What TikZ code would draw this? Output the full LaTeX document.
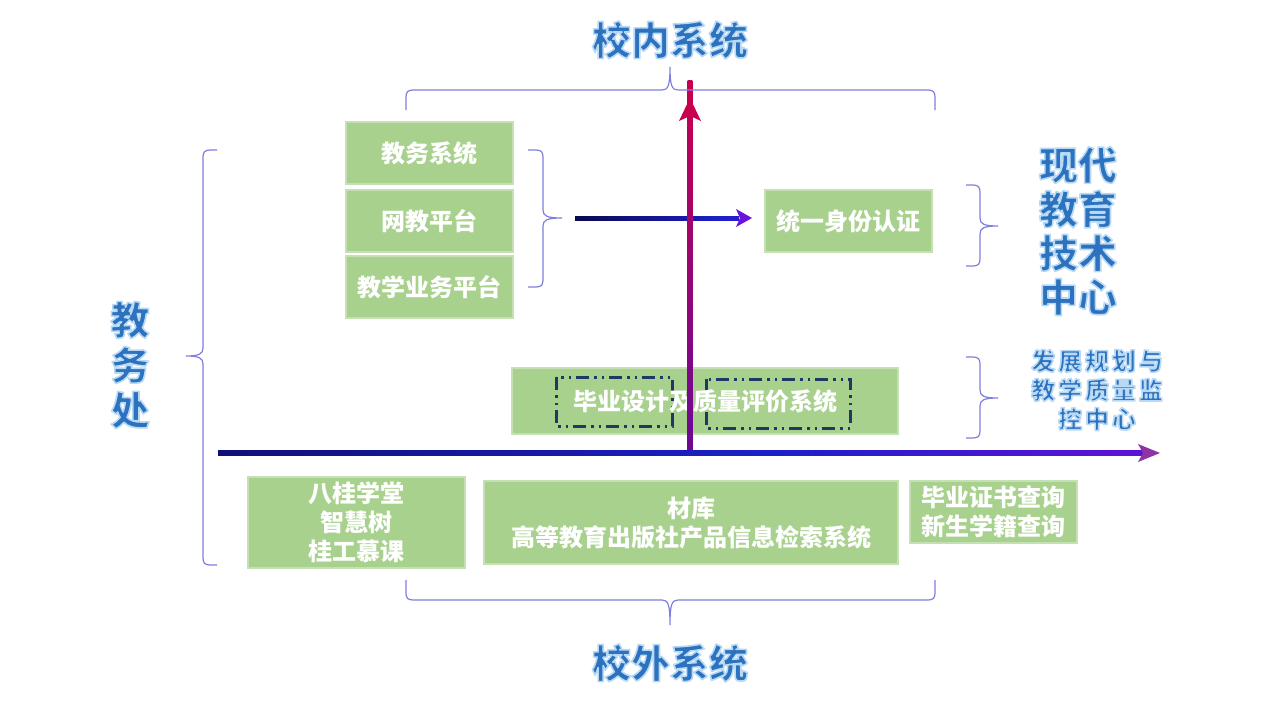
\documentclass[tikz,border=0pt]{standalone}
\usepackage{fontspec}
\setmainfont{Noto Sans CJK SC}
\definecolor{boxgreen}{HTML}{A9D18E}
\definecolor{boxedge}{HTML}{C5E0B4}
\definecolor{navy}{HTML}{203864}
\definecolor{bracecol}{HTML}{7F7FDF}
\definecolor{titleblue}{HTML}{2C72BE}
\definecolor{darknavy}{HTML}{10107A}
\definecolor{axisblue}{HTML}{1C20C8}
\definecolor{axisviolet}{HTML}{6A10D8}
\definecolor{axispurple}{HTML}{8E34A4}
\definecolor{upred}{HTML}{C8004E}
\definecolor{uppurple}{HTML}{6A0A96}
\definecolor{arrowviolet}{HTML}{6A12E0}
\pgfdeclarehorizontalshading{haxis}{100bp}{color(0bp)=(black); color(25bp)=(darknavy);
  color(55bp)=(axisblue); color(78bp)=(axisviolet); color(100bp)=(axispurple)}
\pgfdeclarehorizontalshading{harrow}{100bp}{color(0bp)=(black); color(40bp)=(darknavy);
  color(70bp)=(axisblue); color(100bp)=(arrowviolet)}
% stroked + filled glyphs for the glowing titles
\newcommand{\glow}[1]{\textcolor{titleblue}{\special{pdf:code 0.72 0.85 0.96 RG 1 j 1.6 w 2 Tr}#1\special{pdf:code 0 Tr}}}

\begin{document}
\begin{tikzpicture}[x=1pt, y=-1pt,
    sysbox/.style={fill=boxgreen, draw=boxedge, line width=1.5pt, text=white,
      font=\bfseries\fontsize{24}{29}\selectfont, align=center, inner sep=0pt},
    dashbox/.style={draw=navy, line width=3pt,
      dash pattern=on 13pt off 5pt on 2.5pt off 5pt on 2.5pt off 5pt},
    curly/.style={draw=bracecol, line width=1.2pt},
    biglabel/.style={font=\bfseries\fontsize{39}{44}\selectfont, inner sep=0pt},
    midlabel/.style={font=\bfseries\fontsize{24}{29}\selectfont\addfontfeature{LetterSpace=12}, inner sep=0pt}]
  %%%%% START %%%%%

  \useasboundingbox[fill=white] (0,0) rectangle (1280,720);

  % inside systems
  \node[sysbox, minimum width=167, minimum height=62] (jwxt) at (429.5,153) {教务系统};
  \node[sysbox, minimum width=167, minimum height=62] (wjpt) at (429.5,221) {网教平台};
  \node[sysbox, minimum width=167, minimum height=62] (jxyw) at (429.5,287) {教学业务平台};
  \node[sysbox, minimum width=167, minimum height=62] (tysf) at (848.5,221) {统一身份认证};

  \node[sysbox, minimum width=386, minimum height=66] (bysj) at (705,401) {};
  \draw[dashbox] (556,377) rectangle (672,426);
  \draw[dashbox] (706,379) rectangle (850,428);
  \node[text=white, font=\bfseries\fontsize{24}{29}\selectfont] (bysjtext) at (bysj) {毕业设计及质量评价系统};

  % outside systems
  \node[sysbox, minimum width=217, minimum height=91] (mooc) at (356.5,522.5) {八桂学堂\\智慧树\\桂工慕课};
  \node[sysbox, minimum width=414, minimum height=83] (gjcb) at (691,522.5) {材库\\高等教育出版社产品信息检索系统};
  \node[sysbox, minimum width=167, minimum height=62] (cxxt) at (993.5,512) {毕业证书查询\\新生学籍查询};

  % short arrow to identity
  \coordinate (sa) at (575,218);
  \coordinate (se) at (752,218);
  \shade[shading=harrow] ([yshift=-2pt]sa) rectangle ([xshift=-13pt, yshift=2pt]se);
  \fill[arrowviolet] (se) -- ++(-16,-9) -- ++(4,9) -- ++(-4,9) -- cycle;

  % vertical axis
  \coordinate (vo) at (690,453);
  \coordinate (ve) at (690,98);
  \shade[bottom color=uppurple, top color=upred]
    ([xshift=-2.4pt]vo) rectangle ([xshift=2.4pt, yshift=18pt]ve);
  \fill[upred] (ve) -- ++(-11,23) -- ++(11,-5) -- ++(11,5) -- cycle;

  % horizontal axis
  \coordinate (ho) at (218,453);
  \coordinate (he) at (1160,453);
  \shade[shading=haxis] ([yshift=-2.5pt]ho) rectangle ([xshift=-16pt, yshift=2.5pt]he);
  \fill[axispurple] (he) -- ++(-22,-9) -- ++(5,9) -- ++(-5,9) -- cycle;

  % braces
  \draw[curly] (406,110) -- (406,97) .. controls (406,92) and (408,90) .. (413,90) -- (662,90)
    .. controls (668,90) and (670,86) .. (670,67) .. controls (670,86) and (672,90) .. (678,90)
    -- (928,90) .. controls (933,90) and (935,92) .. (935,97) -- (935,110);
  \draw[curly] (406,580) -- (406,593) .. controls (406,598) and (408,600) .. (413,600) -- (662,600)
    .. controls (668,600) and (670,604) .. (670,625) .. controls (670,604) and (672,600) .. (678,600)
    -- (928,600) .. controls (933,600) and (935,598) .. (935,593) -- (935,580);
  \draw[curly] (217,150) -- (210,150) .. controls (205,150) and (203,152) .. (203,157) -- (203,348)
    .. controls (203,354) and (199,356) .. (186,356) .. controls (199,356) and (203,358) .. (203,364)
    -- (203,558) .. controls (203,563) and (205,565) .. (210,565) -- (217,565);
  \draw[curly] (528,150) -- (536,150) .. controls (541,150) and (543,152) .. (543,157) -- (543,210)
    .. controls (543,216) and (547,218) .. (562,218) .. controls (547,218) and (543,220) .. (543,226)
    -- (543,280) .. controls (543,285) and (541,287) .. (536,287) -- (528,287);
  \draw[curly] (966,185) -- (973,185) .. controls (978,185) and (980,187) .. (980,192) -- (980,218)
    .. controls (980,224) and (984,226) .. (998,226) .. controls (984,226) and (980,228) .. (980,234)
    -- (980,259) .. controls (980,264) and (978,266) .. (973,266) -- (966,266);
  \draw[curly] (966,357) -- (973,357) .. controls (978,357) and (980,359) .. (980,364) -- (980,390)
    .. controls (980,396) and (984,398) .. (998,398) .. controls (984,398) and (980,400) .. (980,406)
    -- (980,431) .. controls (980,436) and (978,438) .. (973,438) -- (966,438);

  % labels
  \node[biglabel] (xnxt) at (670,40) {\glow{校内系统}};
  \node[biglabel] (xwxt) at (670,663) {\glow{校外系统}};
  \foreach \t [count=\i] in {现代,教育,技术,中心}
    \node[biglabel] (jszx\i) at (1078,121+44*\i) {\glow{\t}};
  \foreach \t [count=\i] in {教,务,处}
    \node[biglabel] (jwc\i) at (130,275+45*\i) {\glow{\t}};
  \foreach \t [count=\i] in {发展规划与,教学质量监,控中心}
    \node[midlabel] (fzgh\i) at (1097,332+29*\i) {\glow{\t}};

  %%%%% END %%%%%
\end{tikzpicture}
\end{document}
